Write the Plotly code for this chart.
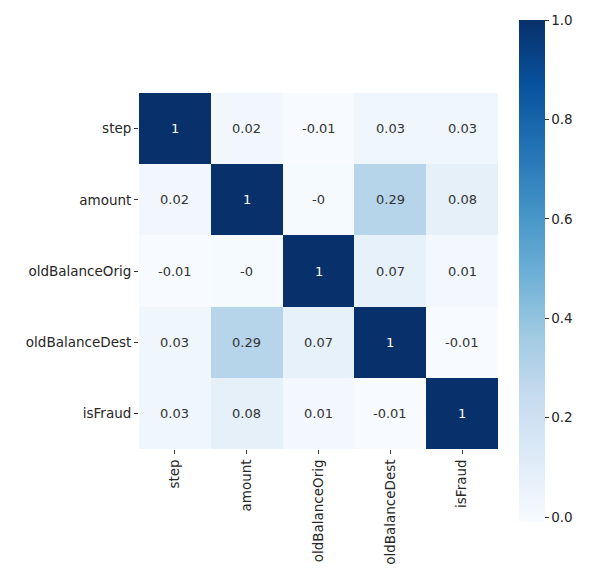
import plotly.graph_objects as go

# Correlation matrix of the transaction features
features = ["step", "amount", "oldBalanceOrig", "oldBalanceDest", "isFraud"]
corr_step = [1.0, 0.02, -0.01, 0.03, 0.03]
corr_amount = [0.02, 1.0, -0.0, 0.29, 0.08]
corr_orig = [-0.01, -0.0, 1.0, 0.07, 0.01]
corr_dest = [0.03, 0.29, 0.07, 1.0, -0.01]
corr_fraud = [0.03, 0.08, 0.01, -0.01, 1.0]
corr = [corr_step, corr_amount, corr_orig, corr_dest, corr_fraud]

cbar_ticks = [0.0, 0.2, 0.4, 0.6, 0.8, 1.0]

# matplotlib "Blues" colormap
blues = ["#f7fbff", "#deebf7", "#c6dbef", "#9ecae1", "#6baed6",
         "#4292c6", "#2171b5", "#08519c", "#08306b"]
colorscale = [[i / (len(blues) - 1), c] for i, c in enumerate(blues)]

zmin, zmax = -0.01, 1.0

label_font = dict(family="DejaVu Sans", size=13.5, color="#262626")

fig = go.Figure(
    go.Heatmap(
        z=corr,
        x=features,
        y=features,
        zmin=zmin,
        zmax=zmax,
        colorscale=colorscale,
        hoverinfo="skip",
        colorbar=dict(
            thickness=26,
            lenmode="pixels",
            len=502,
            x=1.059,
            xanchor="left",
            y=0.5,
            yanchor="middle",
            ypad=0,
            xpad=0,
            outlinewidth=0,
            tickvals=cbar_ticks,
            ticktext=[f"{t:.1f}" for t in cbar_ticks],
            ticks="outside",
            ticklen=4,
            tickcolor="#333333",
            tickfont=label_font,
        ),
    )
)

# Cell annotations
for i, row_name in enumerate(features):
    for j, col_name in enumerate(features):
        v = corr[i][j]
        frac = (v - zmin) / (zmax - zmin)
        fig.add_annotation(
            x=col_name,
            y=row_name,
            text=f"{v:g}",
            showarrow=False,
            font=dict(family="DejaVu Sans", size=13,
                      color="white" if frac > 0.6 else "#333333"),
        )

fig.update_layout(
    width=595,
    height=587,
    margin=dict(l=139, r=97, t=93, b=138),
    paper_bgcolor="white",
    plot_bgcolor="white",
    xaxis=dict(
        tickangle=-90,
        ticks="outside",
        ticklen=4,
        tickcolor="#333333",
        tickfont=label_font,
        showgrid=False,
        zeroline=False,
        showline=False,
    ),
    yaxis=dict(
        autorange="reversed",
        ticks="outside",
        ticklen=4,
        tickcolor="#333333",
        tickfont=label_font,
        showgrid=False,
        zeroline=False,
        showline=False,
    ),
)

fig.write_html("out.html")
